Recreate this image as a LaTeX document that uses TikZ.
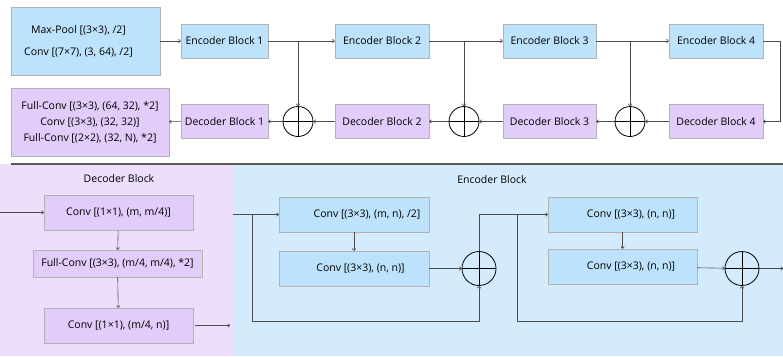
\documentclass[tikz,border=0pt]{standalone}
\usepackage{fontspec}
\setmainfont{Open Sans}
\usetikzlibrary{arrows.meta, positioning, calc}

\definecolor{encblue}{HTML}{BDE2FB}
\definecolor{decpurple}{HTML}{E2CCFA}
\definecolor{panelblue}{HTML}{D3EBFD}
\definecolor{panelpurple}{HTML}{EDDFFC}

\begin{document}
\begin{tikzpicture}[
    x=1pt, y=-1pt,
    font=\fontsize{10.5}{12.5}\selectfont,
    block/.style={draw=black!30, line width=0.4pt, inner sep=0pt, minimum height=34pt},
    enc/.style={block, fill=encblue},
    dec/.style={block, fill=decpurple},
    sum/.style={circle, draw, line width=0.8pt, minimum size=30pt, inner sep=0pt,
        path picture={\draw[line width=0.8pt]
            (path picture bounding box.north) -- (path picture bounding box.south)
            (path picture bounding box.west) -- (path picture bounding box.east);}},
    link/.style={draw=black!70, line width=0.6pt},
    arr/.style={link, -{To[length=2.5pt, width=4pt]}},
    textshift/.style={execute at begin node={\hspace*{#1}}}
]
    \useasboundingbox (0,0) rectangle (783,356);

    % top row: encoder path
    \node[enc, minimum width=149pt, minimum height=68pt] (in) at (85.5,41) {};
    \node[align=center] (intext) at ([xshift=-7pt]in.center)
        {Max-Pool [(3×3), /2]\\[9.5pt]Conv [(7×7), (3, 64), /2]};
    \node[enc, minimum width=87pt] (enc1) at (224.5,41) {Encoder Block 1};
    \node[enc, minimum width=94pt] (enc2) at (382,41) {Encoder Block 2};
    \node[enc, minimum width=93pt] (enc3) at (549.5,41) {Encoder Block 3};
    \node[enc, minimum width=94pt] (enc4) at (716,41) {Encoder Block 4};

    % bottom row: decoder path
    \node[dec, minimum width=158pt, minimum height=68pt, align=center] (out) at (90,122)
        {Full-Conv [(3×3), (64, 32), *2]\\[3.5pt]Conv [(3×3), (32, 32)]\\[3.5pt]Full-Conv [(2×2), (32, N), *2]};
    \node[dec, minimum width=87pt] (dec1) at (224.5,121.5) {Decoder Block 1};
    \node[dec, minimum width=94pt] (dec2) at (382,121.5) {Decoder Block 2};
    \node[dec, minimum width=93pt] (dec3) at (549.5,121.5) {Decoder Block 3};
    \node[dec, minimum width=94pt] (dec4) at (716,121.5) {Decoder Block 4};

    \node[sum] (sum1) at (298,121.5) {};
    \node[sum] (sum2) at (464,121.5) {};
    \node[sum] (sum3) at (630,121.5) {};

    \draw[arr] (in) -- (enc1);
    \draw[arr] (enc1) -- (enc2);
    \draw[arr] (enc2) -- (enc3);
    \draw[arr] (enc3) -- (enc4);
    \draw[arr] (enc1 -| sum1) -- (sum1);
    \draw[arr] (enc2 -| sum2) -- (sum2);
    \draw[arr] (enc3 -| sum3) -- (sum3);
    \coordinate (turn) at (780,41);
    \draw[arr] (enc4) -- (turn) |- (dec4);
    \draw[arr] (dec4) -- (sum3);
    \draw[arr] (sum3) -- (dec3);
    \draw[arr] (dec3) -- (sum2);
    \draw[arr] (sum2) -- (dec2);
    \draw[arr] (dec2) -- (sum1);
    \draw[arr] (sum1) -- (dec1);
    \draw[arr] (dec1) -- (out);

    % detail panels
    \fill[panelpurple] (0,164) rectangle (233,356);
    \fill[panelblue] (233,164) rectangle (783,356);
    \draw[black!65, line width=1.5pt] (11,164) -- (783,164);
    \node (dtitle) at (119,179) {Decoder Block};
    \node (etitle) at (492,180) {Encoder Block};

    % decoder block
    \node[dec, minimum width=149pt, minimum height=35pt] (dconv1) at (118.5,212.5) {Conv [(1×1), (m, m/4)]};
    \node[dec, minimum width=169pt, minimum height=27pt] (dfull) at (117.5,263.5) {Full-Conv [(3×3), (m/4, m/4), *2]};
    \node[dec, minimum width=149pt, minimum height=35pt] (dconv3) at (118.5,325.5) {Conv [(1×1), (m/4, n)]};
    \coordinate (din) at (0,212.5);
    \coordinate (dout) at (230,325.5);
    \draw[arr] (din) -- (dconv1);
    \draw[arr] (dconv1) -- (dfull);
    \draw[arr] (dfull) -- (dconv3);
    \draw[arr] (dconv3.east) ++(2,0) -- (dout);

    % encoder block
    \node[enc, minimum width=150pt, minimum height=35pt, textshift=26pt] (econv1) at (354,214.5) {Conv [(3×3), (m, n), /2]};
    \node[enc, minimum width=150pt, minimum height=35pt, textshift=13pt] (econv2) at (354,268.5) {Conv [(3×3), (n, n)]};
    \node[sum, minimum size=34pt] (esum1) at (479,268.5) {};
    \node[enc, minimum width=149pt, minimum height=35pt, textshift=17pt] (econv3) at (622.5,214.5) {Conv [(3×3), (n, n)]};
    \node[enc, minimum width=149pt, minimum height=35pt, textshift=17pt] (econv4) at (622.5,266.5) {Conv [(3×3), (n, n)]};
    \node[sum, minimum size=34pt] (esum2) at (742,268.5) {};

    \coordinate (ein) at (233,214.5);
    \coordinate (split1) at (252,214.5);
    \coordinate (split2) at (517,214.5);
    \coordinate (eout) at (783,268.5);
    \draw[arr] (ein) -- (econv1);
    \draw[arr] (econv1) -- (econv2);
    \draw[arr] (econv2) -- (esum1);
    \draw[arr] (split1) -- ++(0,106.5) -| (esum1);
    \draw[arr] (esum1) |- (econv3);
    \draw[arr] (econv3) -- (econv4);
    \draw[arr] (econv4) -- (esum2);
    \draw[arr] (split2) -- ++(0,106.5) -| (esum2);
    \draw[arr] (esum2) -- (eout);
\end{tikzpicture}
\end{document}
